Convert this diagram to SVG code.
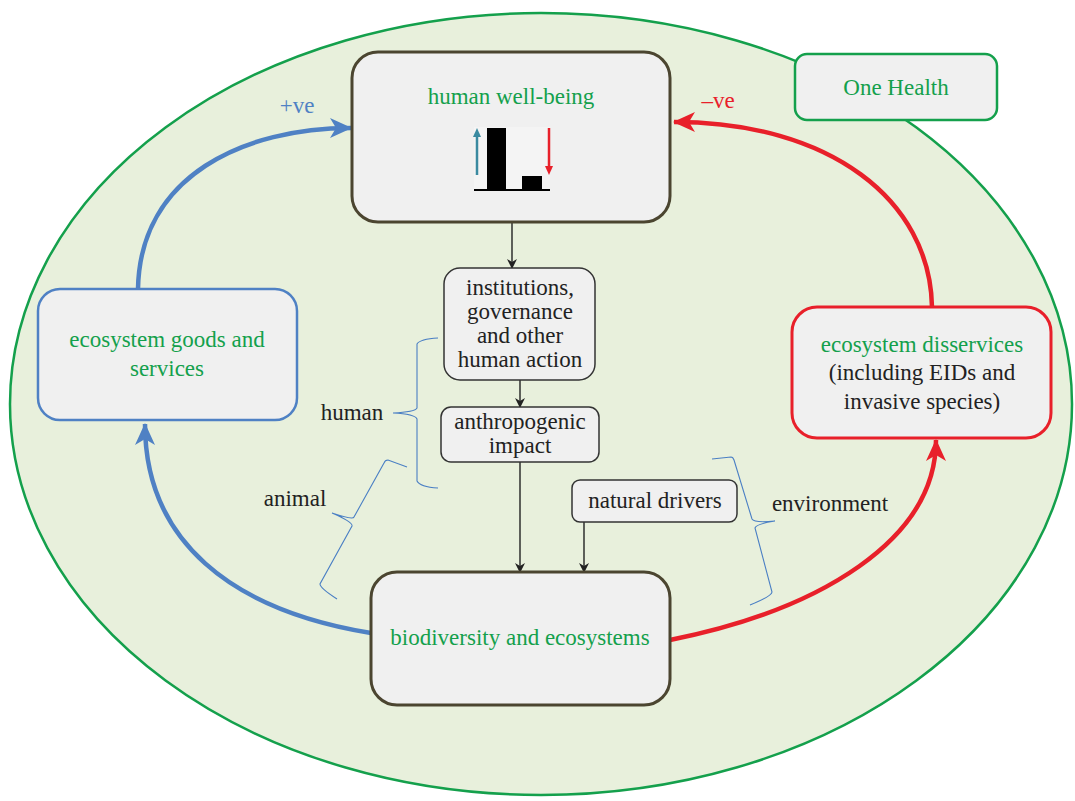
<svg xmlns="http://www.w3.org/2000/svg" width="1075" height="801" viewBox="0 0 1075 801">
<style>
text{font-family:Liberation Serif,Times New Roman,Times,serif;font-size:23px;fill:#222;text-anchor:middle}
.g{fill:#14a04c}
.box{fill:#f0f0f0}
.main{stroke:#4b4530;stroke-width:3}
.small{stroke:#333;stroke-width:1.5}
.link{stroke:#222;stroke-width:1.4;fill:none}
.brace{stroke:#4a7fc4;stroke-width:1.1;fill:none}
</style>
<defs>
<marker id="ah" markerWidth="10" markerHeight="10" refX="9" refY="5" orient="auto" markerUnits="userSpaceOnUse">
<path d="M0,0 L10,5 L0,10 L3,5 Z" fill="#222"/>
</marker>
<marker id="bl" markerWidth="22" markerHeight="22" refX="21" refY="11" orient="auto" markerUnits="userSpaceOnUse">
<path d="M0,1 L22,11 L0,21 L6,11 Z" fill="#4f81c4"/>
</marker>
<marker id="rd" markerWidth="22" markerHeight="22" refX="21" refY="11" orient="auto" markerUnits="userSpaceOnUse">
<path d="M0,1 L22,11 L0,21 L6,11 Z" fill="#e8202a"/>
</marker>
</defs>
<rect width="1075" height="801" fill="#fff"/>
<ellipse id="onehealth-area" cx="541" cy="404" rx="531" ry="391" fill="#e8f0dc" stroke="#14a04c" stroke-width="2.5"/>

<g id="connectors">
<path d="M138,289 C140,175 245,128 351,128" fill="none" stroke="#4f81c4" stroke-width="4.5" marker-end="url(#bl)"/>
<path d="M932,307 C930,200 830,122 674,122" fill="none" stroke="#e8202a" stroke-width="4.5" marker-end="url(#rd)"/>
<path d="M371,633 C230,610 145,540 145,424" fill="none" stroke="#4f81c4" stroke-width="4.5" marker-end="url(#bl)"/>
<path d="M670,640 C820,610 936,540 936,440" fill="none" stroke="#e8202a" stroke-width="4.5" marker-end="url(#rd)"/>
<path class="link" d="M512,222 L512,268" marker-end="url(#ah)"/>
<path class="link" d="M520,380 L520,407" marker-end="url(#ah)"/>
<path class="link" d="M520,462 L520,572" marker-end="url(#ah)"/>
<path class="link" d="M584,522 L584,572" marker-end="url(#ah)"/>
<text x="297" y="113" style="fill:#4f81c4">+ve</text>
<text x="718" y="108" style="fill:#e8202a">–ve</text>
</g>

<g id="braces">
<path class="brace" d="M438,338 Q420,339 417,344 L417,408 Q415,412 393,413 Q415,414 417,419 L417,481 Q420,487 438,488"/>
<text x="352" y="420">human</text>
<path class="brace" d="M407,467 L388,460 Q385,460 384,463 L354,517 Q353,520 332,513 Q353,522 352,526 L320,584 Q320,588 337,599"/>
<text x="295" y="506">animal</text>
<path class="brace" d="M712,459 L731,457 Q733,457 734,460 L752,519 Q754,523 775,521 Q756,524 755,528 L772,592 Q772,596 750,605"/>
<text x="830" y="511">environment</text>
</g>

<g id="human-well-being">
<rect class="box main" x="352" y="52" width="318" height="170" rx="26"/>
<text class="g" x="511" y="104">human well-being</text>
<rect x="474" y="127" width="76" height="63" fill="#f4f4f4"/>
<path d="M477,175 L477,136" stroke="#3a8aa0" stroke-width="2.5"/>
<path d="M473,137 L477,128 L481,137 Z" fill="#3a8aa0"/>
<rect x="487" y="128" width="19" height="62" fill="#000"/>
<rect x="522" y="176" width="20" height="14" fill="#000"/>
<path d="M474,190 L550,190" stroke="#000" stroke-width="2"/>
<path d="M549,128 L549,166" stroke="#e8202a" stroke-width="2.5"/>
<path d="M545,166 L549,175 L553,166 Z" fill="#e8202a"/>
</g>

<g id="one-health">
<rect class="box" x="795" y="54" width="202" height="66" rx="12" stroke="#14a04c" stroke-width="2.5"/>
<text class="g" x="896" y="95">One Health</text>
</g>

<g id="institutions">
<rect class="box small" x="444" y="268" width="151" height="112" rx="16"/>
<text x="520" y="295">institutions,</text>
<text x="520" y="319">governance</text>
<text x="520" y="343">and other</text>
<text x="520" y="367">human action</text>
</g>

<g id="anthropogenic">
<rect class="box small" x="441" y="407" width="158" height="55" rx="10"/>
<text x="520" y="429">anthropogenic</text>
<text x="520" y="453">impact</text>
</g>

<g id="natural-drivers">
<rect class="box small" x="572" y="480" width="165" height="42" rx="8"/>
<text x="655" y="508">natural drivers</text>
</g>

<g id="biodiversity">
<rect class="box main" x="371" y="572" width="299" height="133" rx="26"/>
<text class="g" x="520" y="645">biodiversity and ecosystems</text>
</g>

<g id="goods">
<rect class="box" x="38" y="289" width="259" height="131" rx="22" stroke="#4f81c4" stroke-width="2.5"/>
<text class="g" x="167" y="347">ecosystem goods and</text>
<text class="g" x="167" y="376">services</text>
</g>

<g id="disservices">
<rect class="box" x="792" y="307" width="259" height="131" rx="25" stroke="#e8202a" stroke-width="3"/>
<text class="g" x="922" y="352">ecosystem disservices</text>
<text x="922" y="380">(including EIDs and</text>
<text x="922" y="409">invasive species)</text>
</g>
</svg>
